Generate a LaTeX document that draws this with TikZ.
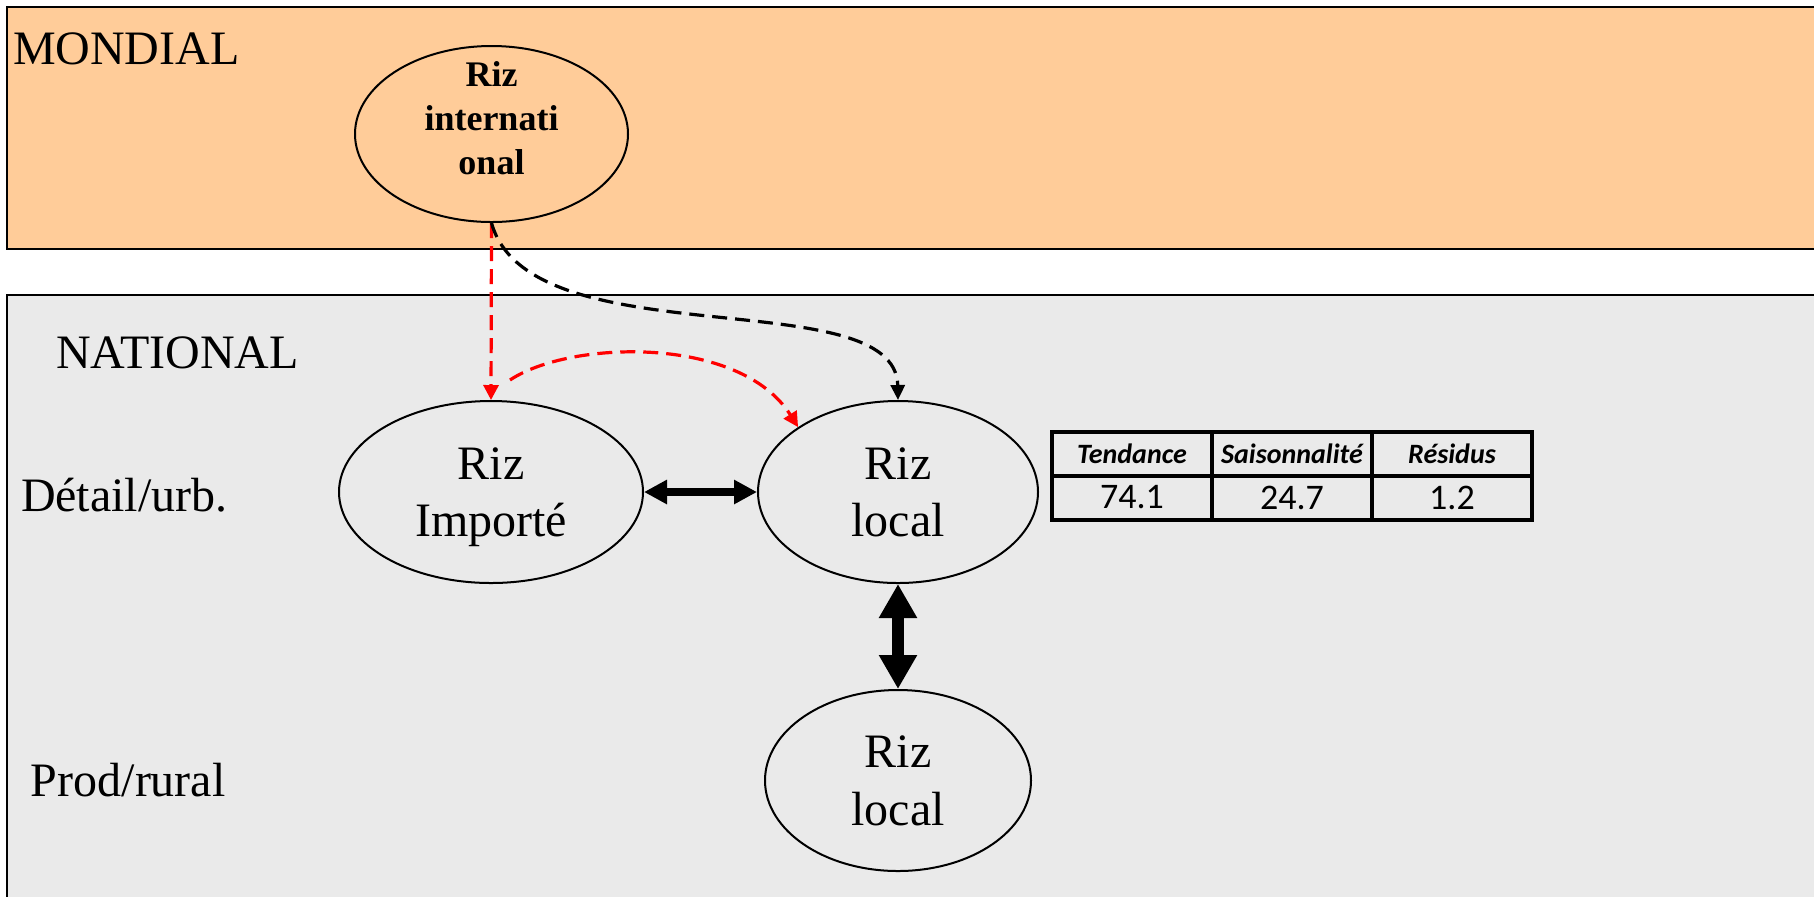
\documentclass[tikz,border=0pt]{standalone}
\usepackage{fontspec}
\setmainfont{Liberation Serif}
\newfontfamily\calibri{Carlito}
\usetikzlibrary{arrows.meta,positioning,shapes.geometric}
\definecolor{mondial}{RGB}{255,204,153}
\definecolor{natgrey}{RGB}{234,234,234}
\definecolor{linkred}{RGB}{255,0,0}

\begin{document}
\begin{tikzpicture}[x=0.5pt,y=-0.5pt,node distance=56.5pt,
                    line width=1pt]
  \tikzstyle{riz}=[ellipse,draw=black,line width=1pt,fill=natgrey,inner sep=0pt,
                   align=center,text depth=0pt,font=\fontsize{24}{28.8}\selectfont]
  \tikzstyle{zone}=[anchor=base west,inner sep=0pt,font=\fontsize{24}{28.8}\selectfont]
  \tikzstyle{reddash}=[draw=linkred,line width=1.6pt,dash pattern=on 7.5pt off 4pt,
                       -{Triangle[length=7.5pt,width=7.5pt]}]
  \tikzstyle{blackdash}=[draw=black,line width=1.6pt,dash pattern=on 7.5pt off 4pt,
                         -{Triangle[length=7.5pt,width=7pt]}]
  \tikzstyle{tabcell}=[draw=black,line width=2pt,rectangle,minimum width=80pt,
                       minimum height=22pt,inner sep=0pt]

  \useasboundingbox (0,0) rectangle (1814,896);
  \clip (0,0) rectangle (1814,896);

  % the two levels
  \draw[fill=mondial] (7,7) rectangle (1830,249);
  \draw[fill=natgrey] (7,295) rectangle (1830,910);

  \node[zone] (mondial) at (12,64)  {MONDIAL};
  \node[zone] (national) at (55,368) {NATIONAL};
  \node[zone] (detail) at (20,511) {Détail/urb.};
  \node[zone] (prod) at (30,796) {Prod/rural};

  % markets
  \node[riz,fill=mondial,minimum width=136.5pt,minimum height=88pt] (intl) at (491.5,134) {};
  \node[font=\bfseries\fontsize{18}{22}\selectfont,align=center,inner sep=0pt]
       (intltxt) at ([yshift=8pt]intl.center) {Riz\\internati\\onal};
  \node[riz,minimum width=152pt,minimum height=91pt] (imp) at (491,492) {Riz\\Importé};
  \node[riz,minimum width=140pt,minimum height=91pt] (loc) [right=of imp] {Riz\\local};
  \node[riz,minimum width=133pt,minimum height=90.5pt] (rur) [below=52.5pt of loc] {Riz\\local};

  % transmission
  \coordinate (rstart) at (510,380);
  \draw[reddash] (intl.south) -- (imp.north);
  \draw[reddash] (rstart) .. controls (570,340) and (740,335) .. (loc.147);
  \draw[blackdash] (intl.south) .. controls (530,360) and (896,280) .. (loc.north);
  \draw[line width=4pt,{Triangle[length=11.5pt,width=11.5pt]}-{Triangle[length=11.5pt,width=11.5pt]}]
       (imp.east) -- (loc.west);
  \draw[line width=6pt,{Triangle[length=17pt,width=18pt]}-{Triangle[length=17pt,width=18pt]}]
       (loc.south) -- (rur.north);

  % decomposition
  \foreach \name/\val [count=\i] in {Tendance/74.1,Saisonnalité/24.7,Résidus/1.2}{
    \node[tabcell,font=\calibri\bfseries\itshape\fontsize{14}{16}\selectfont]
         (h\i) at (972+160*\i,453.5) {\name};
    \node[tabcell,font=\calibri\fontsize{18}{20}\selectfont]
         (v\i) at (972+160*\i,497.5) {\val};
  }

\end{tikzpicture}
\end{document}
